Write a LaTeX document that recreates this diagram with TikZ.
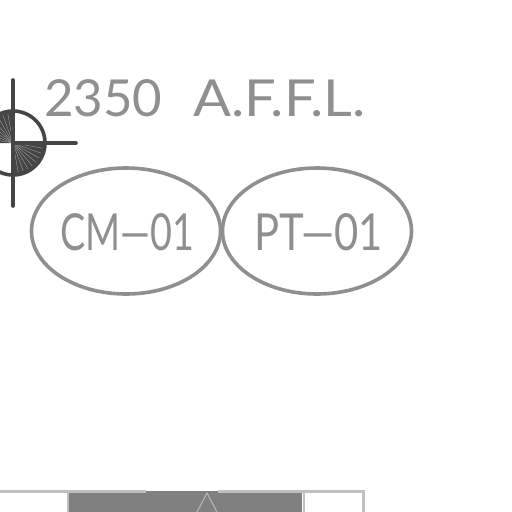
\documentclass[tikz,border=0pt]{standalone}
\usepackage{fontspec}
\setmainfont{Lato}
\usetikzlibrary{shapes.geometric}
\definecolor{txt}{gray}{0.56}
\definecolor{dk}{gray}{0.27}
\definecolor{lt}{gray}{0.75}
\definecolor{fillg}{gray}{0.5}
\tikzset{
 tag/.style={draw=txt,line width=3.6pt,ellipse,inner sep=0pt,minimum width=189pt,minimum height=126pt},
 lab/.style={text=txt,inner sep=0pt,font=\fontsize{51pt}{51pt}\selectfont},
 cross/.style={draw=dk,line width=3.6pt,line cap=round},
 ray/.style={draw=gray!75,line width=0.4pt}
}
\begin{document}
\begin{tikzpicture}[x=1pt,y=-1pt]
\useasboundingbox (0,0) rectangle (512,512);
% bottom
\fill[fillg] (68,491) rectangle (302,512);
\draw[lt,line width=3pt] (0,491.5) -- (146,491.5);
\draw[lt,line width=3pt] (218,491.5) -- (363.5,491.5) -- (363.5,512);
\draw[lt,line width=2pt] (68,491) -- (68,512);
\draw[lt,line width=2pt] (303.5,491) -- (303.5,512);
\draw[gray!58,line width=1.1pt] (197,512) -- (207,493) -- (217,512);
% symbol
\coordinate (c) at (13,143);
\fill[dk] (c) -- (-19,143) arc[start angle=180,end angle=270,radius=32] -- cycle;
\fill[dk] (c) -- (13,175) arc[start angle=90,end angle=0,radius=32] -- cycle;
\foreach \a in {10,20,...,80}{
 \draw[ray] (c) -- ++({-30*cos(\a)},{-30*sin(\a)});
 \draw[ray] (c) -- ++({30*cos(\a)},{30*sin(\a)});
}
\draw[dk,line width=3.6pt] (c) circle[radius=32];
\coordinate (t) at (13,80); \coordinate (b) at (13,206); \coordinate (r) at (76,143);
\draw[cross] (t) -- (b);
\draw[cross] (c) -- (r);
% text
\node[lab,anchor=base west] (lv) at (44,116) {2350};
\node[lab,anchor=base west,xscale=1.1] (af) at (193,116) {A.F.F.L.};
% tags
\node[tag] (cm) at (126,231) {};
\node[tag] (pt) at (317,231) {};
\node[lab,xscale=.74,anchor=base] at (127,250) {CM—01};
\node[lab,xscale=.82,anchor=base] at (318.5,250) {PT—01};
\end{tikzpicture}
\end{document}
